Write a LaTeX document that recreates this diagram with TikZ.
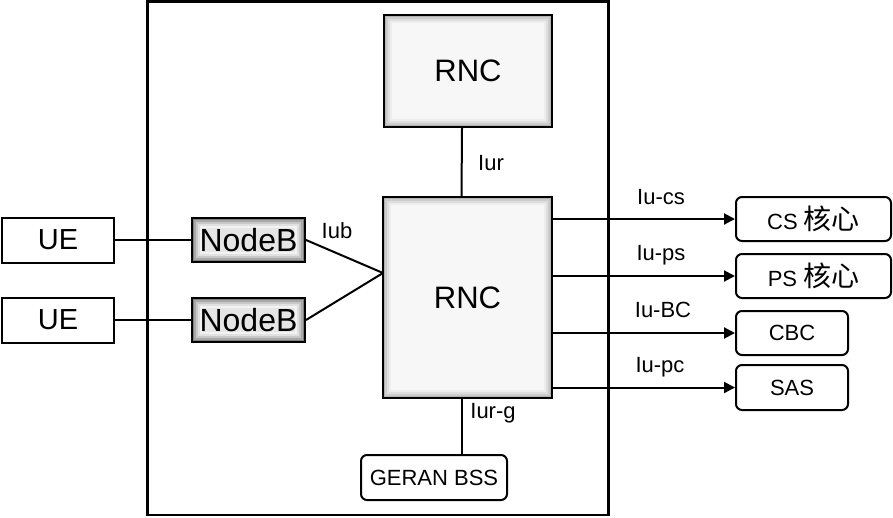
\documentclass[tikz,border=0pt]{standalone}
\usepackage{fontspec}
\setmainfont{Liberation Sans}
\newfontfamily\cjk{Noto Sans CJK SC}
\usepackage{tikz}
\usetikzlibrary{arrows.meta,calc}
\tikzset{
  >={Triangle[length=11pt,width=11pt]},
  bx/.style={rectangle,draw,line width=2pt,inner sep=0pt},
  sbx/.style={bx,fill=gray!6,path picture={
      \foreach \i/\c in {1/1,3/0.7,5/0.45,7/0.25,9/0.1}{
        \pgfmathtruncatemacro\cc{#1*\c}
        \draw[black!\cc,line width=2pt]
          ($(path picture bounding box.south west)+(\i pt,\i pt)$) rectangle
          ($(path picture bounding box.north east)+(-\i pt,-\i pt)$);}}},
  rbx/.style={bx,rounded corners=6pt},
  lbl/.style={font=\fontsize{22}{24}\selectfont},
  every picture/.style={line width=2pt},
}

\begin{document}
\begin{tikzpicture}[x=1pt,y=-1pt]
\useasboundingbox (0,0) rectangle (893,517);
\draw[line width=2.5pt] (147.5,1.5) rectangle (608.5,515);
\node[bx,minimum width=112pt,minimum height=45pt,font=\fontsize{29}{31}\selectfont] (ue1) at (58,240){UE};
\node[bx,minimum width=112pt,minimum height=45pt,font=\fontsize{29}{31}\selectfont] (ue2) at (58,320){UE};
\node[sbx=50,fill=gray!20,minimum width=113pt,minimum height=44pt,font=\fontsize{32}{34}\selectfont] (nb1) at (248.5,240){NodeB};
\node[sbx=50,fill=gray!20,minimum width=113pt,minimum height=44pt,font=\fontsize{32}{34}\selectfont] (nb2) at (248.5,320){NodeB};
\node[sbx=30,minimum width=168pt,minimum height=112pt,font=\fontsize{31}{33}\selectfont] (rnct) at (468,71){RNC};
\node[sbx=30,minimum width=169pt,minimum height=201pt,font=\fontsize{31}{33}\selectfont] (rnc) at (467.5,297.5){RNC};
\node[rbx,minimum width=146pt,minimum height=45pt,font=\fontsize{22}{24}\selectfont] (geran) at (434,477.5){GERAN BSS};
\node[rbx,minimum width=155pt,minimum height=44pt,font=\fontsize{22}{24}\selectfont] (cs) at (813.5,219){CS {\cjk\fontsize{28}{30}\selectfont 核心}};
\node[rbx,minimum width=155pt,minimum height=44pt,font=\fontsize{22}{24}\selectfont] (ps) at (813.5,276){PS {\cjk\fontsize{28}{30}\selectfont 核心}};
\node[rbx,minimum width=112pt,minimum height=44pt,font=\fontsize{22}{24}\selectfont] (cbc) at (792,333){CBC};
\node[rbx,minimum width=112pt,minimum height=45pt,font=\fontsize{22}{24}\selectfont] (sas) at (792,387.5){SAS};
\coordinate (hub) at (383,273);
% interfaces
\draw (ue1) -- (nb1); \draw (ue2) -- (nb2);
\draw (nb1.east) -- (hub); \draw (nb2.east) -- (hub);
\draw ([xshift=-6pt]rnct.south) -- ([xshift=-6pt]rnc.north);
\draw ([xshift=-6pt]rnc.south) -- ([xshift=-6pt]rnc.south |- geran.north);
\draw[->] (cs.west -| rnc.east) -- (cs.west);
\draw[->] (ps.west -| rnc.east) -- (ps.west);
\draw[->] (cbc.west -| rnc.east) -- (cbc.west);
\draw[->] (sas.west -| rnc.east) -- (sas.west);
\node[lbl] (iub) at (337,231){Iub};
\node[lbl] (iur) at (491,163){Iur};
\node[lbl] (iurg) at (493,413){Iur-g};
\node[lbl] (iucs) at (661,197){Iu-cs};
\node[lbl] (iups) at (661,255){Iu-ps};
\node[lbl] (iubc) at (663,310){Iu-BC};
\node[lbl] (iupc) at (660,367){Iu-pc};
\end{tikzpicture}
\end{document}
